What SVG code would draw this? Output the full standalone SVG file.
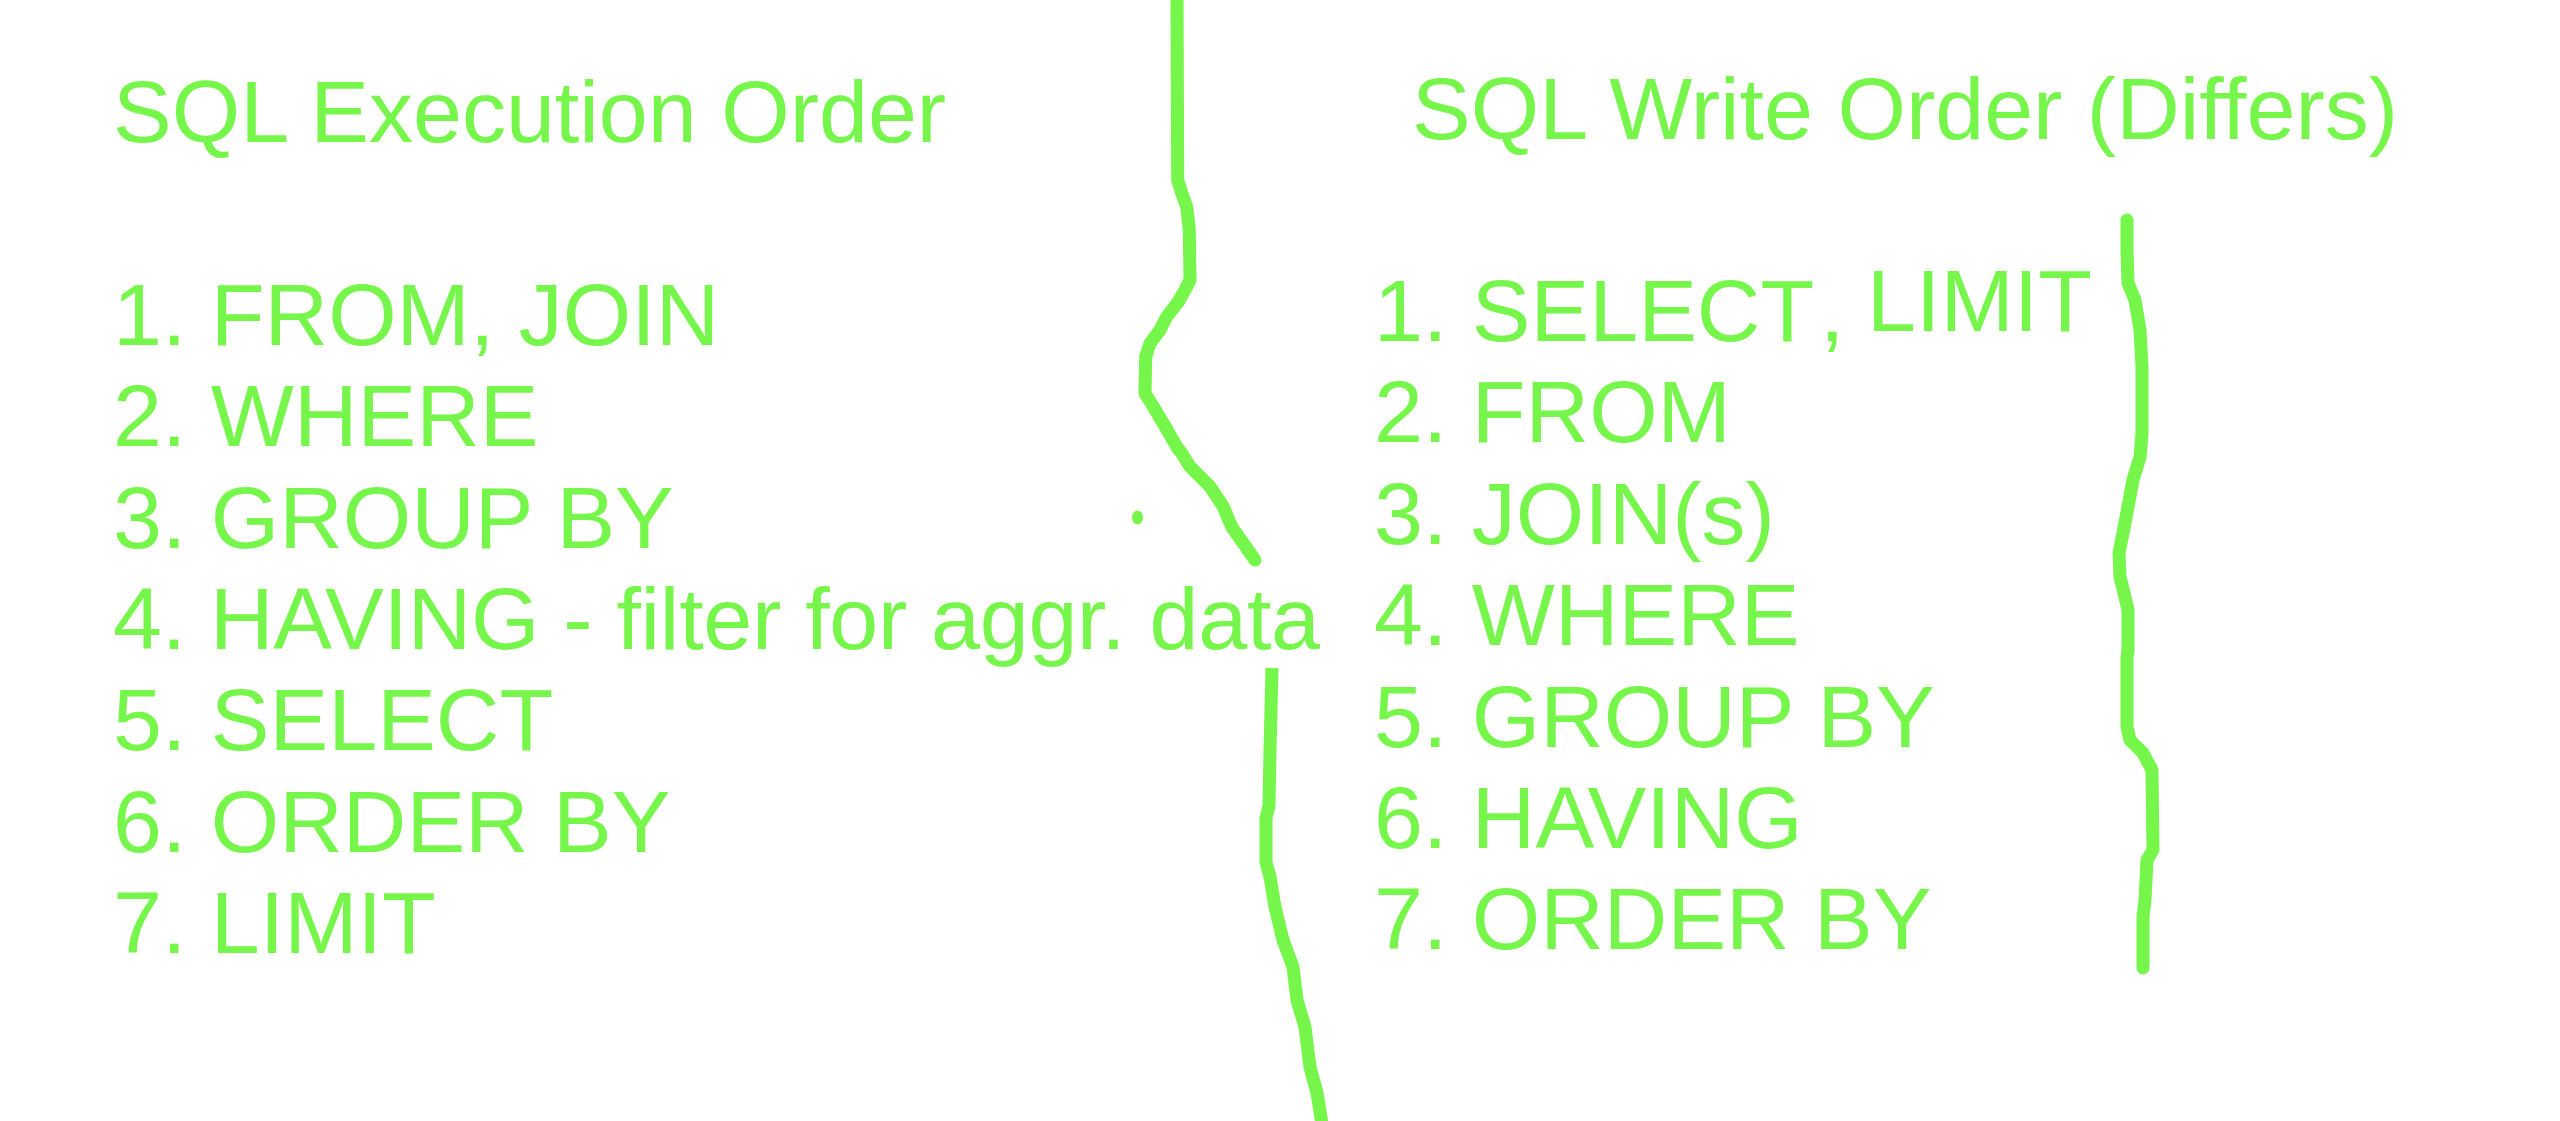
<svg xmlns="http://www.w3.org/2000/svg" width="2560" height="1121" viewBox="0 0 2560 1121">
<style>
text{font-family:"Liberation Sans",Arial,sans-serif;font-size:88px;fill:#76F64A}
.ln{fill:none;stroke:#76F64A;stroke-width:13;stroke-linecap:round;stroke-linejoin:round}
</style>
<rect width="2560" height="1121" fill="#FFFFFF"/>
<g id="execution-order">
<text x="113" y="141.7">SQL Execution Order</text>
<text x="113" y="345">1. FROM, JOIN</text>
<text x="113" y="446.3">2. WHERE</text>
<text x="113" y="547.7">3. GROUP BY</text>
<text x="113" y="649" textLength="1207" lengthAdjust="spacing">4. HAVING - filter for aggr. data</text>
<text x="113" y="750.3">5. SELECT</text>
<text x="113" y="851.7">6. ORDER BY</text>
<text x="113" y="953">7. LIMIT</text>
</g>
<g id="write-order">
<text x="1412" y="139.3">SQL Write Order (Differs)</text>
<text x="1374" y="341">1. SELECT</text>
<text x="1820" y="341">,</text>
<text x="1867" y="330.7">LIMIT</text>
<text x="1374" y="442.4">2. FROM</text>
<text x="1374" y="543.8">3. JOIN(s)</text>
<text x="1374" y="645.2">4. WHERE</text>
<text x="1374" y="746.6">5. GROUP BY</text>
<text x="1374" y="848">6. HAVING</text>
<text x="1374" y="949.4">7. ORDER BY</text>
</g>
<g id="strokes">
<path class="ln" d="M1177,-8 L1177.7,180 L1181.7,193 L1186.7,206.7 L1189.3,230 L1190,280 L1185,290 L1178.3,301.7 L1166.7,316.7 L1160,330 L1150,343.3 L1145.7,356.7 L1145,393.3 L1153.3,406.7 L1163.3,423.3 L1176.7,446.7 L1181.7,453.3 L1190,466.7 L1210,486.7 L1223.3,506.7 L1231.7,526.7 L1243.3,543.3 L1255,560"/>
<path class="ln" style="stroke-linecap:butt" d="M1272,668 L1270,750 L1269,806 L1266,818 L1266,862 L1270,877 L1275,907 L1283,940 L1293,967 L1297,1000 L1305,1027 L1310,1067 L1317,1093 L1323,1130"/>
<path class="ln" d="M2127,220 L2127,250 L2128,283 L2135,300 L2140,330 L2142,367 L2142,433 L2140,457 L2133,480 L2128,507 L2123,533 L2119,553 L2120,577 L2125,597 L2128,610 L2128,650 L2127,657 L2127,727 L2130,740 L2143,753 L2152,770 L2153,850 L2147,860 L2145,900 L2143,917 L2143,968"/>
<ellipse cx="1137.5" cy="517.5" rx="5.5" ry="7" fill="#76F64A"/>
</g>
</svg>
